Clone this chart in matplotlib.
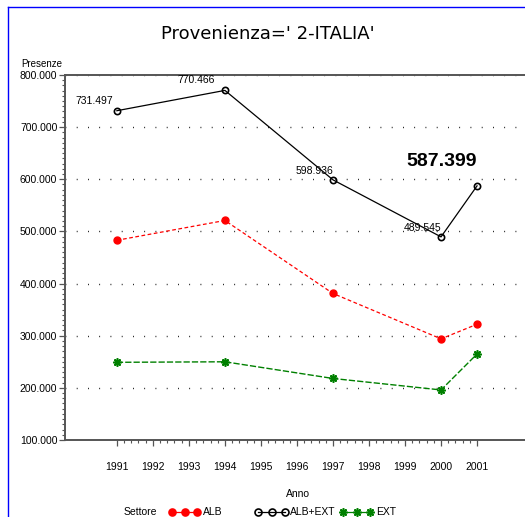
import numpy as np
import matplotlib
matplotlib.use("Agg")
import matplotlib.pyplot as plt
from matplotlib.ticker import FixedLocator, MultipleLocator, FuncFormatter
from matplotlib.lines import Line2D

plt.rcParams['font.family'] = ['Liberation Sans', 'DejaVu Sans']

anni = [1991, 1994, 1997, 2000, 2001]
alb = [483, 521, 381, 294, 322]
alb_ext = [731.497, 770.466, 598.936, 489.545, 587.399]
ext = [249, 250, 218, 196, 265]
etichette = ["731.497", "770.466", "598.936", "489.545", "587.399"]

W, H = 525, 517
fig = plt.figure(figsize=(5.25, 5.17), dpi=100)
ax = fig.add_axes([65/W, 1-440/H, 465/W, 365/H])

ax.plot(anni, alb_ext, color="black", lw=0.9, marker="o", ms=4.5, mfc="none", mec="black", mew=1.2)
ax.plot(anni, alb, color="red", lw=0.9, ls=(0, (3, 2)), marker="o", ms=5, mfc="red", mec="red")
ax.plot(anni, ext, color="#008000", lw=1.0, ls=(0, (4.5, 1.5)), marker=(8, 2, 0), ms=6,
        mfc="#008000", mec="#008000", mew=1.2)

px = 72/100
# etichette sui punti ALB+EXT
offs = [(-4, 5), (-10, 5), (0, 4), (0, 4)]
for i in range(4):
    ax.annotate(etichette[i], (anni[i], alb_ext[i]), xytext=(offs[i][0]*px, offs[i][1]*px),
                textcoords="offset points", ha="right", va="bottom", fontsize=7.5)
ax.annotate(etichette[4], (anni[4], alb_ext[4]), xytext=(-35*px, 16*px), textcoords="offset points",
            ha="center", va="bottom", fontsize=14, fontweight="bold")

ax.set_xlim(1989.56, 2002.47)
ax.set_ylim(100, 800)
ax.xaxis.set_major_locator(FixedLocator(list(range(1991, 2002))))
ax.xaxis.set_minor_locator(FixedLocator([1991 + k*0.2 for k in range(51)]))
ax.yaxis.set_major_locator(MultipleLocator(100))
ax.yaxis.set_minor_locator(MultipleLocator(10))
ax.yaxis.set_major_formatter(FuncFormatter(lambda v, p: "%d.000" % v))
ax.tick_params(axis="both", which="major", length=4, width=0.9, labelsize=7.5, color="#555555")
ax.tick_params(axis="both", which="minor", length=2.2, width=0.8, color="#555555")
ax.tick_params(axis="x", pad=12)
ax.tick_params(axis="y", pad=1.5)
for y in range(100, 801, 100):
    ax.axhline(y, color="black", lw=1.0, ls=(0, (0.6, 7.5)), zorder=0)
for s in ax.spines.values():
    s.set_linewidth(1.4)
    s.set_color("#555555")
ax.spines["right"].set_visible(False)

ax.set_xlabel("Anno", fontsize=7.5, labelpad=12)
fig.text(42/W, 1-64/H, "Presenze", fontsize=7, ha="center", va="center")
fig.text(268/W, 1-34/H, "Provenienza=' 2-ITALIA'", fontsize=13, ha="center", va="center",
         family="DejaVu Sans", color="black")

# legenda
ly = 1-512/H
fig.text(124/W, ly, "Settore", fontsize=7.5, ha="left", va="center")
voci = [(172, 197, "red", "o", "red", 203, "ALB"),
        (258, 285, "black", "o", "none", 290, "ALB+EXT"),
        (343, 370, "#008000", (8, 2, 0), "#008000", 376, "EXT")]
for x0, x1, col, mk, fc, xt, lab in voci:
    fig.add_artist(Line2D([x0/W, (x0+x1)/2/W, x1/W], [ly, ly, ly], color=col, lw=0.9, marker=mk,
                          ms=5 if mk == "o" else 6, mfc=fc, mec=col, mew=1.2, transform=fig.transFigure))
    fig.text(xt/W, ly, lab, fontsize=7.5, ha="left", va="center")

# bordo blu
fig.add_artist(Line2D([8/W, 8/W], [0, 1-7/H], color="blue", lw=1, transform=fig.transFigure))
fig.add_artist(Line2D([8/W, 1], [1-7/H, 1-7/H], color="blue", lw=1, transform=fig.transFigure))

fig.savefig("out.png", dpi=100)
